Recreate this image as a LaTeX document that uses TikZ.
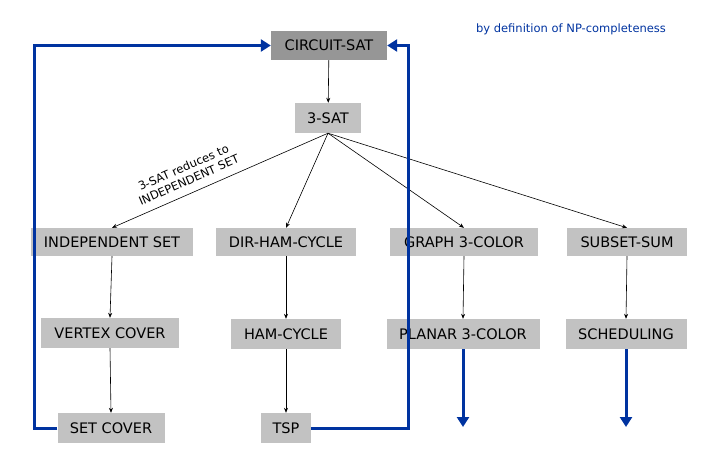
\documentclass[tikz,border=0pt]{standalone}
\usepackage{fontspec}
\setmainfont{DejaVu Sans}
\usetikzlibrary{arrows.meta, positioning, calc}
\definecolor{npblue}{RGB}{0,51,160}
\definecolor{boxgray}{RGB}{194,194,194}
\definecolor{darkgray}{RGB}{150,150,150}
\tikzset{
  prob/.style={fill=boxgray, inner sep=0pt, minimum height=29pt, minimum width=#1,
    font=\fontsize{14.5}{16}\selectfont},
  prob/.default=110pt,
  arr/.style={-{Stealth[length=5pt, width=4pt]}, line width=0.6pt},
  bluearr/.style={-{Triangle[length=10pt, width=12pt]}, line width=3pt, draw=npblue},
}
\begin{document}
\begin{tikzpicture}[x=1pt, y=-1pt]
  \useasboundingbox (0,0) rectangle (712,460);
  \node[prob=116pt, fill=darkgray] (circ) at (329,45.5) {CIRCUIT-SAT};
  \node[prob=66pt, minimum height=30pt] (sat) at (328,118) {3-SAT};
  \node[prob=162pt, minimum height=28pt] (ind) at (112,242) {INDEPENDENT SET};
  \node[prob=140pt, minimum height=28pt] (dir) at (286,242) {DIR-HAM-CYCLE};
  \node[prob=148pt, minimum height=28pt] (graph) at (464,242) {GRAPH 3-COLOR};
  \node[prob=120pt, minimum height=28pt] (subset) at (627,242) {SUBSET-SUM};
  \node[prob=138pt, minimum height=30pt] (vc) at (110,333) {VERTEX COVER};
  \node[prob=110pt, minimum height=30pt] (ham) at (286,334) {HAM-CYCLE};
  \node[prob=153pt, minimum height=30pt] (planar) at (463,334) {PLANAR 3-COLOR};
  \node[prob=121pt, minimum height=30pt] (sched) at (626,334) {SCHEDULING};
  \node[prob=107pt, minimum height=30pt] (setc) at (111,428) {SET COVER};
  \node[prob=50pt, minimum height=30pt] (tsp) at (286,428) {TSP};
  \node[text=npblue, font=\fontsize{11.5}{13}\selectfont] (def) at (571,29) {by definition of NP-completeness};

  \draw[arr] (circ) -- (sat);
  \draw[arr] (sat.south) -- node[sloped, above=5pt, pos=0.62, align=center,
    font=\fontsize{11.5}{13.5}\selectfont] {3-SAT reduces to\\INDEPENDENT SET} (ind.north);
  \foreach \t in {dir, graph, subset} \draw[arr] (sat.south) -- (\t.north);
  \foreach \a/\b in {ind/vc, vc/setc, dir/ham, ham/tsp, graph/planar, subset/sched}
    \draw[arr] (\a.south) -- (\b.north);

  \coordinate (lft) at (34,428);
  \coordinate (rgt) at (408,428);
  \coordinate (pend) at (463,427);
  \coordinate (send) at (626,427);
  \draw[bluearr] (setc.west) -- (lft) |- (circ.west);
  \draw[bluearr] (tsp.east) -- (rgt) |- (circ.east);
  \draw[bluearr] (planar.south) -- (pend);
  \draw[bluearr] (sched.south) -- (send);
\end{tikzpicture}
\end{document}
